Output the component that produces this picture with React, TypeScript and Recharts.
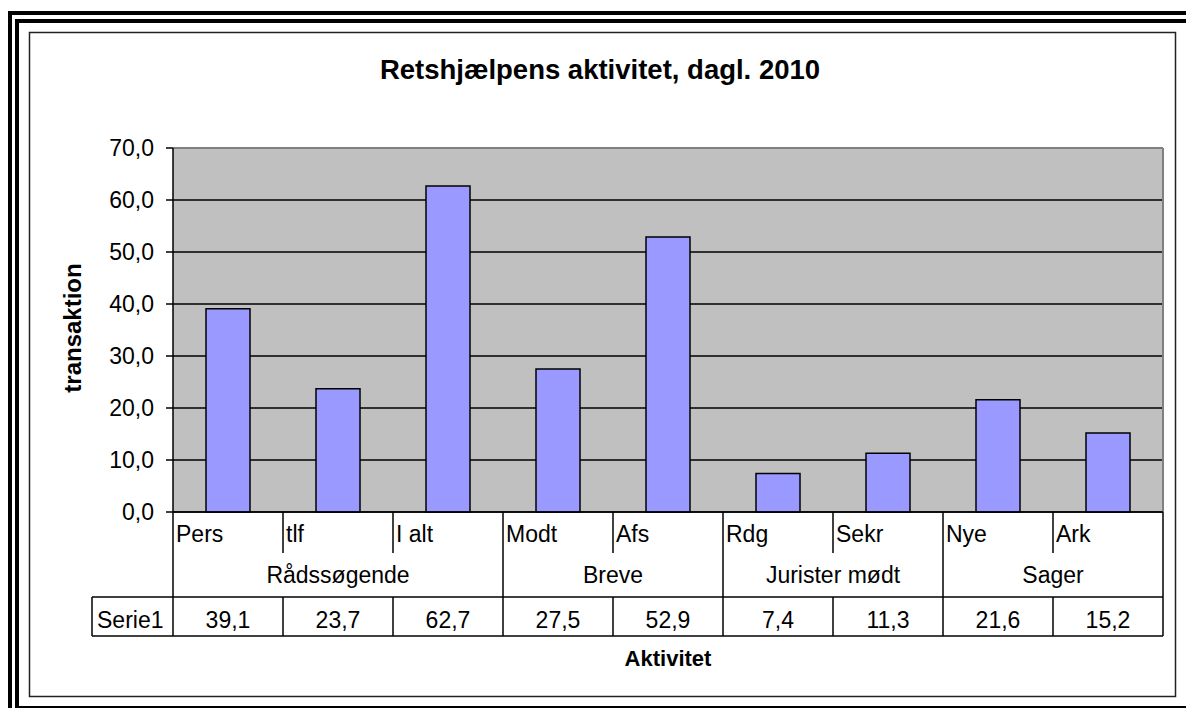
import React from 'react'
import { BarChart, Bar, XAxis, YAxis, CartesianGrid, Customized } from 'recharts'

const categories = ['Pers', 'tlf', 'I alt', 'Modt', 'Afs', 'Rdg', 'Sekr', 'Nye', 'Ark']
const values = [39.1, 23.7, 62.7, 27.5, 52.9, 7.4, 11.3, 21.6, 15.2]
const groups = ['Rådssøgende', 'Breve', 'Jurister mødt', 'Sager']
const groupSizes = [3, 2, 2, 2]
const yTicks = [0, 10, 20, 30, 40, 50, 60, 70]
const seriesName = 'Serie1'
const title = 'Retshjælpens aktivitet, dagl. 2010'
const yTitle = 'transaktion'
const xTitle = 'Aktivitet'

const data = categories.map((c, i) => ({ name: c, value: values[i] }))

// group start index lookup
const groupStart: number[] = []
groupSizes.reduce((acc, n) => { groupStart.push(acc); return acc + n }, 0)

const W = 1186
const H = 708
const PLOT_L = 173
const PLOT_R = 1163
const PLOT_T = 148
const PLOT_B = 512
const BAND = (PLOT_R - PLOT_L) / categories.length
const ROW1 = 553
const ROW2 = 597
const ROW3 = 636
const FONT = '"Liberation Sans", Arial, sans-serif'
const FS = 23

const fmt = (v: number) => v.toFixed(1).replace('.', ',')

function TableTick(props: any) {
  const { x, payload } = props
  const i = payload.index
  const left = x - BAND / 2
  const right = x + BAND / 2
  const gi = groupStart.indexOf(i)
  const isGroupEnd = groupStart.includes(i + 1) || i === categories.length - 1
  return (
    <g fontFamily={FONT} fill="#000">
      <text x={left + 3} y={542} fontSize={FS} textAnchor="start" fill="#000">{payload.value}</text>
      <text x={x} y={628} fontSize={FS} textAnchor="middle" fill="#000">{fmt(values[i])}</text>
      {!isGroupEnd && (
        <>
          <line x1={right} x2={right} y1={PLOT_B} y2={ROW1} stroke="#000" strokeWidth={1.5} />
          <line x1={right} x2={right} y1={ROW2} y2={ROW3} stroke="#000" strokeWidth={1.5} />
        </>
      )}
      {isGroupEnd && <line x1={right} x2={right} y1={PLOT_B} y2={ROW3} stroke="#000" strokeWidth={1.5} />}
      {i === 0 && <line x1={left} x2={left} y1={PLOT_B} y2={ROW3} stroke="#000" strokeWidth={1.5} />}
      {gi >= 0 && (
        <text x={left + (BAND * groupSizes[gi]) / 2} y={583} fontSize={FS} textAnchor="middle" fill="#000">
          {groups[gi]}
        </text>
      )}
    </g>
  )
}

function Decor() {
  return (
    <g>
      {/* outer frame */}
      <rect x={8} y={11} width={W - 8} height={4} fill="#000" />
      <rect x={15} y={19} width={W - 15} height={4} fill="#000" />
      <rect x={8} y={11} width={4} height={H - 11} fill="#000" />
      <rect x={15} y={19} width={4} height={H - 19} fill="#000" />
      <rect x={15} y={706} width={W - 15} height={2} fill="#000" />
      <rect x={29.5} y={32.5} width={1146} height={664} fill="none" stroke="#222" strokeWidth={1.5} />
      {/* table rows */}
      <line x1={92} x2={PLOT_R} y1={ROW2} y2={ROW2} stroke="#000" strokeWidth={1.5} />
      <line x1={92} x2={PLOT_R} y1={ROW3} y2={ROW3} stroke="#000" strokeWidth={1.5} />
      <line x1={92} x2={92} y1={ROW2} y2={ROW3} stroke="#000" strokeWidth={1.5} />
      <text x={97} y={628} fontSize={FS} fontFamily={FONT} fill="#000">{seriesName}</text>
      {/* titles */}
      <text x={600} y={79} fontSize={27.5} fontWeight="bold" textAnchor="middle" fontFamily={FONT} fill="#000">{title}</text>
      <text x={(PLOT_L + PLOT_R) / 2} y={666} fontSize={22} fontWeight="bold" textAnchor="middle" fontFamily={FONT} fill="#000">{xTitle}</text>
      <text x={81} y={328} fontSize={24} fontWeight="bold" textAnchor="middle" fontFamily={FONT} fill="#000" transform="rotate(-90 81 328)">{yTitle}</text>
      {/* plot border top/right */}
      <line x1={PLOT_L} x2={PLOT_R} y1={PLOT_T} y2={PLOT_T} stroke="#808080" strokeWidth={2} />
      <line x1={PLOT_R} x2={PLOT_R} y1={PLOT_T} y2={PLOT_B} stroke="#808080" strokeWidth={2} />
    </g>
  )
}

export default function App() {
  return (
    <div style={{ position: 'absolute', left: 0, top: 0, width: W, height: H, background: '#fff' }}>
      <BarChart
        width={W}
        height={H}
        data={data}
        margin={{ top: PLOT_T, right: W - PLOT_R, left: 0, bottom: 0 }}
        barCategoryGap="30%"
      >
        <CartesianGrid vertical={false} stroke="#000" strokeWidth={1.5} fill="#C0C0C0" fillOpacity={1} />
        <XAxis
          dataKey="name"
          height={H - PLOT_B}
          axisLine={{ stroke: '#000', strokeWidth: 1.5 }}
          tickLine={false}
          interval={0}
          tick={<TableTick />}
        />
        <YAxis
          width={PLOT_L}
          domain={[0, 70]}
          ticks={yTicks}
          tickFormatter={fmt}
          axisLine={{ stroke: '#000', strokeWidth: 1.5 }}
          tickLine={{ stroke: '#000', strokeWidth: 1.5 }}
          tickSize={7}
          tickMargin={12}
          tick={{ fill: '#000', fontSize: FS, fontFamily: FONT }}
        />
        <Bar dataKey="value" fill="#9999FF" stroke="#000" strokeWidth={1.5} isAnimationActive={false} />
        <Customized component={<Decor />} />
      </BarChart>
    </div>
  )
}
